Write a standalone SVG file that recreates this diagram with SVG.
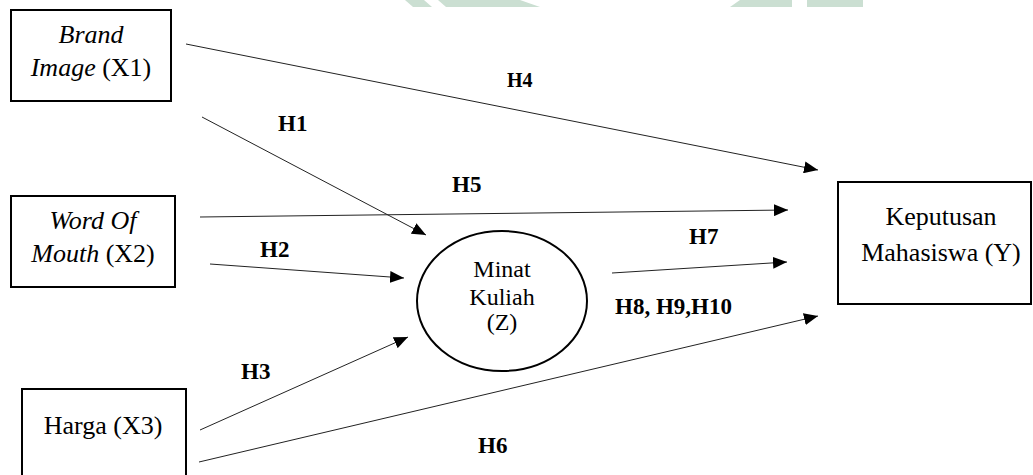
<svg xmlns="http://www.w3.org/2000/svg" width="1033" height="475" viewBox="0 0 1033 475">
  <style>
    text { font-family: 'Liberation Serif', 'Times New Roman', serif; fill: #000000; }
    .box { fill: #ffffff; stroke: #000000; stroke-width: 2; }
    .node-text { font-size: 26px; text-anchor: middle; }
    .z-text { font-size: 24px; text-anchor: middle; }
    .lbl { font-size: 23px; font-weight: bold; }
    .lbl-s { font-size: 20px; font-weight: bold; }
    .conn { stroke: #222222; stroke-width: 1; fill: none; marker-end: url(#arr); }
    .wm { fill: #cbdfd2; }
  </style>
  <defs>
    <marker id="arr" markerWidth="14" markerHeight="12" refX="14" refY="6" orient="auto" markerUnits="userSpaceOnUse">
      <path d="M0,0 L14,6 L0,12 Z" fill="#000000"/>
    </marker>
  </defs>
  <rect width="1033" height="475" fill="#ffffff"/>
  <g id="watermark">
    <polygon class="wm" points="405,0 424,0 432,7 413,7"/>
    <polygon class="wm" points="438,0 520,0 540,7 446,7"/>
    <polygon class="wm" points="740,0 792,0 792,7 730,7"/>
    <rect class="wm" x="807" y="0" width="56" height="7"/>
  </g>
  <g id="connectors">
    <line class="conn" x1="186" y1="44" x2="818" y2="170"/>
    <line class="conn" x1="202" y1="117" x2="426" y2="235"/>
    <line class="conn" x1="200" y1="217" x2="788" y2="210"/>
    <line class="conn" x1="210" y1="264" x2="404" y2="278"/>
    <line class="conn" x1="200" y1="430" x2="408" y2="337"/>
    <line class="conn" x1="199" y1="462" x2="818" y2="316"/>
    <line class="conn" x1="612" y1="273" x2="787" y2="262"/>
  </g>
  <g id="labels">
    <text class="lbl-s" x="507" y="87">H4</text>
    <text class="lbl" x="278" y="131">H1</text>
    <text class="lbl" x="452" y="192">H5</text>
    <text class="lbl" x="260" y="257">H2</text>
    <text class="lbl" x="689" y="244">H7</text>
    <text class="lbl" x="615" y="314">H8, H9,H10</text>
    <text class="lbl" x="241" y="379">H3</text>
    <text class="lbl" x="478" y="453">H6</text>
  </g>
  <g id="node-x1">
    <rect class="box" x="11" y="10" width="160" height="91"/>
    <text class="node-text" x="91" y="43" font-style="italic">Brand</text>
    <text class="node-text" x="91" y="76"><tspan font-style="italic">Image</tspan> (X1)</text>
  </g>
  <g id="node-x2">
    <rect class="box" x="11" y="196" width="164" height="91"/>
    <text class="node-text" x="93" y="229" font-style="italic">Word Of</text>
    <text class="node-text" x="93" y="262"><tspan font-style="italic">Mouth</tspan> (X2)</text>
  </g>
  <g id="node-x3">
    <rect class="box" x="22" y="389" width="164" height="100"/>
    <text class="node-text" x="103" y="434">Harga (X3)</text>
  </g>
  <g id="node-z">
    <ellipse cx="502" cy="301" rx="85" ry="70" fill="#ffffff" stroke="#000000" stroke-width="2"/>
    <text class="z-text" x="502" y="277">Minat</text>
    <text class="z-text" x="502" y="305">Kuliah</text>
    <text class="z-text" x="502" y="330">(Z)</text>
  </g>
  <g id="node-y">
    <rect class="box" x="838" y="182" width="193" height="122"/>
    <text class="node-text" x="941" y="225">Keputusan</text>
    <text class="node-text" x="941" y="261">Mahasiswa (Y)</text>
  </g>
</svg>
